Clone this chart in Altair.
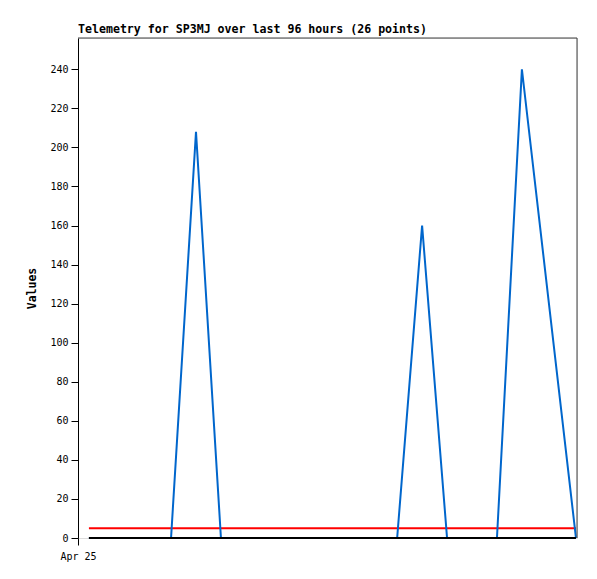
import altair as alt
import pandas as pd

# hours since Apr 25 00:00
hours = [2.1, 5.0, 8.5, 11.5, 14.5, 17.9, 22.7, 27.5, 31.0, 35.0, 39.0, 43.0, 47.0,
         50.0, 53.0, 56.0, 59.0, 61.4, 66.2, 71.0, 73.5, 76.0, 78.5, 80.6, 85.4, 95.8]
blue_vals = [0, 0, 0, 0, 0, 0, 208, 0, 0, 0, 0, 0, 0,
             0, 0, 0, 0, 0, 160, 0, 0, 0, 0, 0, 240, 0]
red_vals = [5] * 26
black_vals = [0] * 26

y_ticks = list(range(0, 241, 20))
x_tick_labels = ["Apr 25"]
title_text = "Telemetry for SP3MJ over last 96 hours (26 points)"

rows = []
for h, b, r, k in zip(hours, blue_vals, red_vals, black_vals):
    rows.append({"h": h, "v": r, "s": "red"})
    rows.append({"h": h, "v": b, "s": "blue"})
    rows.append({"h": h, "v": k, "s": "black"})
df = pd.DataFrame(rows)

FONT = "DejaVu Sans Mono"

x_enc = alt.X("h:Q", scale=alt.Scale(domain=[0, 96], nice=False, zero=False),
              axis=alt.Axis(values=[0], labelExpr="'" + x_tick_labels[0] + "'",
                            domain=False, grid=False, tickSize=7, tickColor="black",
                            labelFont=FONT, labelFontSize=10, labelColor="black",
                            labelAlign="center", labelFlush=False,
                            labelPadding=6, title=None))
y_enc = alt.Y("v:Q", scale=alt.Scale(domain=[0, 256], nice=False),
              axis=alt.Axis(values=y_ticks, grid=False, tickSize=7, tickColor="black",
                            domainColor="black", labelFont=FONT, labelFontSize=10,
                            labelColor="black", labelPadding=3,
                            title="Values", titleFont=FONT, titleFontSize=11.5,
                            titleFontWeight="bold", titleColor="black", titlePadding=12))

lines = []
for name, color in [("red", "#FF0000"), ("blue", "#0066CC"), ("black", "#000000")]:
    lines.append(
        alt.Chart(df[df.s == name]).mark_line(color=color, strokeWidth=2, strokeCap="butt")
        .encode(x=x_enc, y=y_enc, order="h:Q")
    )

top_border = alt.Chart(pd.DataFrame({"a": [0]})).mark_rule(color="#404040", strokeWidth=1).encode(
    x=alt.datum(0, type="quantitative"), x2=alt.datum(96), y=alt.datum(256, type="quantitative"))
right_border = alt.Chart(pd.DataFrame({"a": [0]})).mark_rule(color="#404040", strokeWidth=1).encode(
    x=alt.datum(96, type="quantitative"), y=alt.datum(0, type="quantitative"), y2=alt.datum(256))

chart = alt.layer(*lines, top_border, right_border).properties(
    width=499, height=500,
    title=alt.TitleParams(title_text, anchor="start", frame="group", font=FONT, fontSize=11.6,
                          fontWeight="bold", color="black", offset=2),
    autosize=alt.AutoSizeParams(type="none"),
    padding={"left": 70, "top": 30, "right": 10, "bottom": 30},
).configure_view(stroke=None).configure(background="white")

chart.save("out.html", embed_options={"renderer": "svg", "actions": False})
